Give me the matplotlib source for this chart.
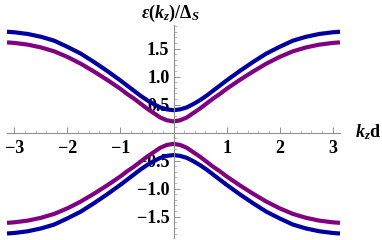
import matplotlib
matplotlib.use("Agg")
import matplotlib.pyplot as plt
from matplotlib.ticker import MultipleLocator, FixedLocator

plt.rcParams['font.family'] = ['Liberation Serif', 'DejaVu Serif']
plt.rcParams['font.weight'] = 'bold'
plt.rcParams['mathtext.fontset'] = 'custom'
plt.rcParams['mathtext.rm'] = 'Liberation Serif:bold'
plt.rcParams['mathtext.it'] = 'Liberation Serif:italic:bold'
plt.rcParams['mathtext.bf'] = 'Liberation Serif:bold'
plt.rcParams['mathtext.fallback'] = 'stix'

# k_z d values
kz = [-3.14, -3.0, -2.75, -2.5, -2.25, -2.0, -1.75, -1.5, -1.25, -1.0,
      -0.875, -0.75, -0.625, -0.5, -0.375, -0.25, -0.125, 0.0,
      0.125, 0.25, 0.375, 0.5, 0.625, 0.75, 0.875,
      1.0, 1.25, 1.5, 1.75, 2.0, 2.25, 2.5, 2.75, 3.0, 3.14]

# upper branches
blue_up = [1.80, 1.79, 1.76, 1.71, 1.64, 1.53, 1.41, 1.26, 1.10, 0.93,
           0.84, 0.75, 0.66, 0.58, 0.51, 0.45, 0.415, 0.40,
           0.415, 0.45, 0.51, 0.58, 0.66, 0.75, 0.84,
           0.93, 1.10, 1.26, 1.41, 1.53, 1.64, 1.71, 1.76, 1.79, 1.80]
purple_up = [1.61, 1.60, 1.57, 1.52, 1.45, 1.35, 1.23, 1.09, 0.94, 0.78,
             0.69, 0.61, 0.52, 0.43, 0.35, 0.27, 0.22, 0.20,
             0.22, 0.27, 0.35, 0.43, 0.52, 0.61, 0.69,
             0.78, 0.94, 1.09, 1.23, 1.35, 1.45, 1.52, 1.57, 1.60, 1.61]
# lower branches
blue_dn = [-1.80, -1.79, -1.76, -1.71, -1.64, -1.53, -1.41, -1.26, -1.10, -0.93,
           -0.84, -0.75, -0.66, -0.58, -0.51, -0.45, -0.415, -0.40,
           -0.415, -0.45, -0.51, -0.58, -0.66, -0.75, -0.84,
           -0.93, -1.10, -1.26, -1.41, -1.53, -1.64, -1.71, -1.76, -1.79, -1.80]
purple_dn = [-1.61, -1.60, -1.57, -1.52, -1.45, -1.35, -1.23, -1.09, -0.94, -0.78,
             -0.69, -0.61, -0.52, -0.43, -0.35, -0.27, -0.22, -0.20,
             -0.22, -0.27, -0.35, -0.43, -0.52, -0.61, -0.69,
             -0.78, -0.94, -1.09, -1.23, -1.35, -1.45, -1.52, -1.57, -1.60, -1.61]

xticks = [-3, -2, -1, 1, 2, 3]
yticks = [-1.5, -1.0, -0.5, 0.5, 1.0, 1.5]

W, H = 382, 240
fig = plt.figure(figsize=(W / 100, H / 100), dpi=100)
ax = fig.add_axes([7 / W, 2 / H, 333 / W, 213 / H])

blue = '#0000a0'
purple = '#800080'
lw = 3.0
style = dict(lw=lw, solid_capstyle='butt', solid_joinstyle='round', clip_on=False)
ax.plot(kz, blue_up, color=blue, **style)
ax.plot(kz, purple_up, color=purple, **style)
ax.plot(kz, purple_dn, color=purple, **style)
ax.plot(kz, blue_dn, color=blue, **style)

ax.set_xlim(-3.14, 3.14)
ax.set_ylim(-1.88, 1.92)

for s in ['top', 'right']:
    ax.spines[s].set_visible(False)
ax.spines['left'].set_position(('data', 0))
ax.spines['bottom'].set_position(('data', 0))
for s in ['left', 'bottom']:
    ax.spines[s].set_color('#909090')
    ax.spines[s].set_linewidth(0.8)

ax.xaxis.set_major_locator(FixedLocator(xticks))
ax.xaxis.set_minor_locator(MultipleLocator(0.2))
ax.yaxis.set_major_locator(FixedLocator(yticks))
ax.yaxis.set_minor_locator(MultipleLocator(0.1))
tfont = {'family': 'Liberation Serif', 'weight': 'bold', 'size': 13}
ax.set_xticklabels(['\u2212%d' % abs(v) if v < 0 else '%d' % v for v in xticks], fontdict=tfont)
ax.set_yticklabels(['\u2212%.1f' % abs(v) if v < 0 else '%.1f' % v for v in yticks], fontdict=tfont)

ax.tick_params(axis='both', which='major', direction='in', length=4, width=0.7,
               color='#909090', pad=3)
ax.tick_params(axis='both', which='minor', direction='in', length=2, width=0.5,
               color='#a0a0a0')
ax.tick_params(axis='x', which='major', pad=5)

fig.text(368 / W, 1 - 132 / H, r'$k_z\mathbf{d}$', fontsize=13, ha='center', va='center')
fig.text(170 / W, 1 - 13 / H, r'$\epsilon(k_z)/\Delta_S$', fontsize=13, ha='center', va='center')

fig.savefig('out.png', dpi=100)
